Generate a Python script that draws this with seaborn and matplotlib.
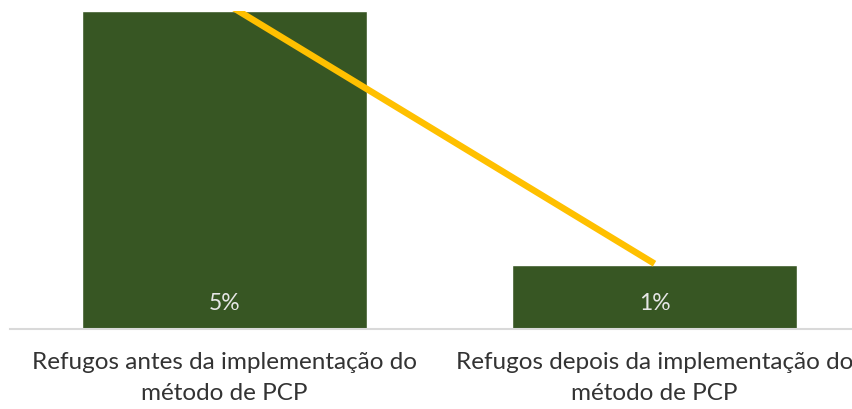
import matplotlib
matplotlib.use("Agg")
import matplotlib.pyplot as plt
import seaborn as sns
import pandas as pd

categories = ["Refugos antes da implementação do\nmétodo de PCP",
              "Refugos depois da implementação do\nmétodo de PCP"]
bar_values = [5, 1]          # percent
bar_labels = ["5%", "1%"]
line_values = [5, 1]         # trend drawn on the secondary axis

sns.set_theme(style="white")
plt.rcParams["font.family"] = ["Lato", "DejaVu Sans"]

df = pd.DataFrame({"cat": categories, "val": bar_values})

fig = plt.figure(figsize=(8.53, 4.10), dpi=100)
ax = fig.add_axes([9.5 / 853, 80 / 410, 860 / 853, 318 / 410])

sns.barplot(data=df, x="cat", y="val", color="#375623", width=0.663,
            saturation=1, ax=ax)
ax.set_ylim(0, 5)
ax.set_xlim(-0.5, 1.5)
ax.set_xlabel("")
ax.set_ylabel("")
ax.set_yticks([])
for s in ["top", "left", "right"]:
    ax.spines[s].set_visible(False)
ax.spines["bottom"].set_color("#d9d9d9")
ax.spines["bottom"].set_linewidth(1.5)
ax.tick_params(axis="x", length=0, pad=16, labelsize=17.5, colors="#333333")
ax.set_xticks(range(len(categories)))
ax.set_xticklabels(categories, linespacing=1.6)

for i, (v, lab) in enumerate(zip(bar_values, bar_labels)):
    ax.text(i, 0.42, lab, ha="center", va="center", color="#e6e6e6",
            fontsize=16.5)

ax2 = ax.twinx()
sns.lineplot(x=[0, 1], y=line_values, color="#FFC000", linewidth=4.7,
             ax=ax2, solid_capstyle="butt")
ax2.set_ylim(0, 4.87)
ax2.set_yticks([])
for s in ax2.spines.values():
    s.set_visible(False)

fig.savefig("out.png", dpi=100)
